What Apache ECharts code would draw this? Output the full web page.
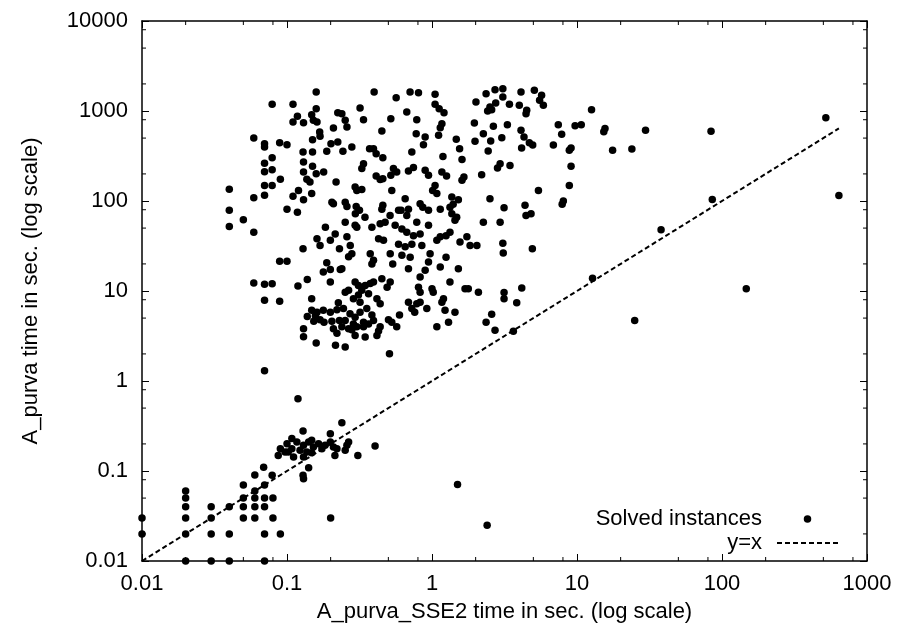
<!DOCTYPE html>
<html>
<head>
<meta charset="utf-8">
<script src="https://cdn.jsdelivr.net/npm/echarts@6/dist/echarts.min.js"></script>
<style>html,body{margin:0;padding:0;background:#fff}#c{width:898px;height:630px}</style>
</head>
<body>
<div id="c"></div>
<script>
// ---- tick labels ----
const xTickLabels = ['0.01', '0.1', '1', '10', '100', '1000'];
const yTickLabels = ['0.01', '0.1', '1', '10', '100', '1000', '10000'];
const minorMultipliers = [2, 5, 8];

// ---- y = x reference line (x extent) ----
const diagX = [0.01, 640];

// ---- solved instances: [A_purva_SSE2 time, A_purva time] ----
const upperLeft = [[0.159,1626],[0.079,1186],[0.110,1186],[0.159,1062],[0.148,911],[0.118,873],[0.110,755],[0.130,742],[0.152,788],[0.161,755],[0.224,958],[0.209,647],[0.168,584],[0.169,523],[0.059,501],[0.070,434],[0.070,398],[0.089,445],[0.100,423],[0.150,480],[0.201,434],[0.188,356],[0.224,453],[0.129,350],[0.150,350],[0.079,303],[0.070,262],[0.130,271],[0.150,243],[0.070,212],[0.079,223],[0.130,210],[0.159,201],[0.179,210],[0.090,174],[0.137,174],[0.144,163],[0.218,163],[0.070,149],[0.079,149],[0.040,135],[0.059,109],[0.070,116],[0.110,113],[0.120,131],[0.130,103],[0.148,121],[0.040,79],[0.100,81],[0.118,75],[0.050,62],[0.204,97],[0.209,93]];
const lowerLeft = [[0.040,52],[0.059,45],[0.129,29.5],[0.161,38],[0.169,32],[0.184,51],[0.199,36.6],[0.215,43],[0.230,29.5],[0.089,21.4],[0.100,21.4],[0.188,20.6],[0.178,16.3],[0.199,17.3],[0.233,17.3],[0.059,12.3],[0.070,11.9],[0.079,12],[0.119,11.4],[0.138,13.4],[0.199,12.6],[0.070,7.9],[0.089,7.7],[0.148,8.2],[0.226,7.4],[0.148,6.1],[0.161,5.8],[0.178,6.1],[0.199,5.8],[0.221,6.2],[0.138,5.2],[0.157,5.3],[0.169,4.8],[0.180,4.5],[0.204,4.6],[0.153,4.6],[0.209,3.8],[0.221,3.4],[0.130,3.8],[0.130,3.1],[0.159,2.64],[0.216,2.49],[0.230,4.7]];
const upperMid = [[0.399,1626],[0.566,1406],[0.706,1626],[0.807,1599],[1.05,1531],[0.319,1080],[1.05,1186],[1.12,1062],[1.21,958],[2.01,1259],[0.239,934],[0.252,788],[0.259,664],[0.337,801],[0.670,977],[0.520,822],[0.785,801],[0.451,600],[1.17,723],[1.14,653],[1.96,736],[0.778,560],[0.897,514],[1.11,537],[1.47,484],[1.98,460],[0.243,356],[0.280,398],[0.371,381],[0.395,381],[0.412,336],[0.458,303],[0.873,423],[0.726,350],[1.19,313],[1.55,381],[1.61,290],[0.337,260],[0.328,229],[0.542,229],[0.571,210],[0.745,235],[0.688,215],[0.897,219],[0.946,193],[1.17,210],[1.26,189],[1.61,170],[1.66,185],[0.412,189],[0.439,173],[0.458,177],[0.520,193],[0.295,143],[0.303,131],[0.328,134],[0.528,131],[0.653,106],[1.01,131],[1.05,149],[1.08,121],[1.37,111],[1.52,103],[0.252,97],[0.259,87],[0.300,87],[0.316,79],[0.296,72],[0.458,89.6],[0.451,81],[0.514,69],[0.588,79],[0.612,79],[0.670,69],[0.688,81],[0.828,93],[0.864,85],[0.946,79],[1.14,81],[1.33,85],[1.40,92],[1.37,72],[1.48,66],[0.345,66]];
const upperRight = [[2.36,1559],[2.72,1726],[3.08,1770],[3.08,1431],[2.75,1227],[2.51,1108],[2.42,1000],[2.58,1034],[3.42,1186],[4.11,1626],[5.08,1700],[5.70,1493],[5.52,1313],[5.86,1156],[4.0,1156],[4.50,1017],[4.45,934],[12.6,1034],[2.26,560],[2.65,676],[3.31,705],[3.03,506],[2.54,464],[2.44,359],[4.11,610],[4.31,514],[4.69,445],[4.95,418],[4.15,388],[7.43,705],[7.84,551],[9.7,687],[10.7,705],[6.87,418],[8.85,366],[9.1,388],[15.6,641],[15.3,589],[17.6,366],[2.95,260],[2.83,233],[3.45,248],[2.2,196],[9.1,243],[5.42,131],[8.85,149],[2.51,106],[3.14,84],[4.38,89.6],[8.05,100],[7.9,92],[4.45,69],[4.82,72],[23.9,378],[29.7,610],[84,594],[520,843],[85.7,104],[640,115]];
const lowerMid = [[0.252,58],[0.295,53.7],[0.303,51],[0.385,51],[0.439,56],[0.475,58],[0.557,53.7],[0.620,49],[0.670,45],[0.785,58],[0.946,53.7],[0.828,43],[0.745,41],[1.44,61],[1.33,45],[1.25,41],[1.14,40],[1.08,36.6],[1.74,40],[1.56,35],[1.83,32],[2.04,32],[0.259,40],[0.273,32],[0.280,26],[0.266,24],[0.375,26],[0.395,21.9],[0.385,20],[0.463,36.6],[0.428,38],[0.588,33],[0.653,31],[0.726,33],[0.851,32],[0.515,26],[0.536,20],[0.620,25],[0.707,23.7],[0.688,17.7],[0.97,26],[0.946,21],[1.14,18.5],[1.25,23.7],[1.52,17.7],[0.239,17.7],[0.295,12.6],[0.311,11.5],[0.346,11.5],[0.375,12.1],[0.395,12.6],[0.451,13.7],[0.515,12.6],[0.490,11],[0.328,10.2],[0.266,10.2],[0.252,9.7],[0.311,9.0],[0.365,9.3],[0.417,8.2],[0.439,7.2],[0.319,7.5],[0.287,8.2],[0.245,6.4],[0.272,5.6],[0.295,5.1],[0.319,5.8],[0.355,6.4],[0.385,5.4],[0.395,4.7],[0.337,4.5],[0.287,4.3],[0.252,4.7],[0.239,4.0],[0.266,3.8],[0.303,4.0],[0.337,4.0],[0.365,4.3],[0.439,4.0],[0.501,4.8],[0.528,4.5],[0.571,4.0],[0.597,5.4],[0.295,3.2],[0.346,3.08],[0.417,3.2],[0.252,2.39],[0.509,2.01],[0.688,7.5],[0.785,7.2],[0.828,7.5],[0.726,6.4],[0.828,9.7],[0.807,11],[0.828,14.3],[0.897,17],[1.0,10.6],[1.02,9.7],[0.921,6.4],[1.17,7.5],[1.23,6.1],[1.2,8.2],[1.33,12.6],[1.44,5.8],[1.69,10.6],[1.78,10.6],[2.09,9.7],[1.08,4.0],[1.3,4.5],[0.428,3.6],[0.280,3.7],[0.76,5.8]];
const lowerRight = [[2.26,58],[2.95,58],[3.08,34],[3.1,26.4],[4.92,29.5],[3.14,9.6],[3.14,8.2],[4.16,10.8],[3.84,7.4],[2.58,5.5],[2.36,4.5],[2.72,3.66],[3.64,3.56],[12.8,13.9],[38,48],[147,10.6],[25,4.7]];
const subSecond = [[0.119,0.637],[0.239,0.344],[0.129,0.278],[0.199,0.260],[0.108,0.229],[0.1,0.201],[0.090,0.177],[0.087,0.149],[0.097,0.163],[0.108,0.177],[0.117,0.21],[0.111,0.143],[0.123,0.17],[0.130,0.193],[0.141,0.21],[0.148,0.219],[0.152,0.185],[0.165,0.201],[0.174,0.177],[0.183,0.193],[0.199,0.21],[0.209,0.185],[0.221,0.177],[0.214,0.149],[0.259,0.193],[0.266,0.21],[0.252,0.17],[0.308,0.149],[0.405,0.189],[0.137,0.163],[0.148,0.159],[0.130,0.143],[0.102,0.163],[0.141,0.109],[0.129,0.0895],[0.13,0.082],[0.069,0.11],[0.079,0.0895],[0.07,1.3],[1.5,0.071],[2.4,0.025],[0.2,0.03]];
const tinyTimes = [[0.01,0.03],[0.01,0.02],[0.02,0.06],[0.02,0.05],[0.02,0.04],[0.02,0.03],[0.02,0.02],[0.02,0.01],[0.03,0.04],[0.03,0.03],[0.03,0.02],[0.03,0.01],[0.04,0.04],[0.04,0.02],[0.04,0.01],[0.05,0.07],[0.05,0.05],[0.05,0.04],[0.05,0.03],[0.06,0.09],[0.06,0.06],[0.06,0.05],[0.06,0.04],[0.06,0.03],[0.07,0.07],[0.07,0.05],[0.07,0.04],[0.07,0.02],[0.07,0.01],[0.08,0.05],[0.08,0.03],[0.09,0.02]];

const solved = [].concat(upperLeft, lowerLeft, upperMid, upperRight, lowerMid, lowerRight, subSecond, tinyTimes);

const FONT = 'Liberation Sans, Arial, sans-serif';
const chart = echarts.init(document.getElementById('c'), null, {renderer: 'canvas'});

function labelFor(list) {
  return function (v) {
    const i = Math.round(Math.log10(v)) + 2;
    return list[i] !== undefined ? list[i] : '';
  };
}
function tickLine(x1, y1, x2, y2) {
  return {type: 'line', shape: {x1: x1, y1: y1, x2: x2, y2: y2}, style: {stroke: '#000', lineWidth: 1}};
}

const axisBase = {
  type: 'log', logBase: 10,
  axisLine: {show: true, lineStyle: {color: '#000', width: 1.5}},
  axisTick: {show: true, inside: true, length: 7, lineStyle: {color: '#000', width: 1}},
  splitLine: {show: false}
};

chart.setOption({
  animation: false,
  backgroundColor: '#fff',
  textStyle: {fontFamily: FONT, color: '#000'},
  grid: {left: 142, right: 31, top: 21, bottom: 69, containLabel: false},
  xAxis: [
    Object.assign({}, axisBase, {
      min: 0.01, max: 1000, splitNumber: 5, position: 'bottom',
      axisLabel: {show: true, margin: 12, fontSize: 22, color: '#000', fontFamily: FONT, formatter: labelFor(xTickLabels)},
      name: 'A_purva_SSE2 time in sec. (log scale)', nameLocation: 'middle', nameGap: 40,
      nameTextStyle: {fontSize: 22, color: '#000', fontFamily: FONT}
    }),
    Object.assign({}, axisBase, {min: 0.01, max: 1000, splitNumber: 5, position: 'top', axisLabel: {show: false}})
  ],
  yAxis: [
    Object.assign({}, axisBase, {
      min: 0.01, max: 10000, splitNumber: 6, position: 'left',
      axisLabel: {show: true, margin: 14, fontSize: 22, color: '#000', fontFamily: FONT, formatter: labelFor(yTickLabels)},
      name: 'A_purva time in sec. (log scale)', nameLocation: 'middle', nameGap: 100,
      nameTextStyle: {fontSize: 22, color: '#000', fontFamily: FONT}
    }),
    Object.assign({}, axisBase, {min: 0.01, max: 10000, splitNumber: 6, position: 'right', axisLabel: {show: false}})
  ],
  legend: {
    data: [
      {name: 'Solved instances'},
      {name: 'y=x', itemStyle: {opacity: 0}, lineStyle: {color: '#000', width: 2, type: [5, 3], opacity: 1}}
    ],
    orient: 'vertical', align: 'right',
    right: 59, top: 508, padding: 0, itemGap: 2,
    itemWidth: 61, itemHeight: 7.5,
    selectedMode: false,
    textStyle: {fontSize: 22, color: '#000', fontFamily: FONT, lineHeight: 22, padding: [0, 10, 0, 0]}
  },
  series: [
    {
      name: 'Solved instances', type: 'scatter', xAxisIndex: 0, yAxisIndex: 0,
      symbol: 'circle', symbolSize: 7.5,
      itemStyle: {color: '#000', opacity: 1},
      data: solved, z: 3
    },
    {
      name: 'y=x', type: 'line', xAxisIndex: 0, yAxisIndex: 0,
      symbol: 'none', showSymbol: false,
      lineStyle: {color: '#000', width: 2, type: [5, 3]},
      itemStyle: {color: '#000'},
      data: diagX.map(function (v) { return [v, v]; }), z: 4
    },
    {
      name: 'minorTicks', type: 'custom', xAxisIndex: 0, yAxisIndex: 0,
      silent: true, clip: false,
      data: [[1, 1]],
      renderItem: function (params, api) {
        const cs = params.coordSys;
        const left = cs.x, right = cs.x + cs.width, top = cs.y, bottom = cs.y + cs.height;
        const children = [];
        for (let e = -2; e < 3; e++) {
          minorMultipliers.forEach(function (m) {
            const px = api.coord([m * Math.pow(10, e), 1])[0];
            children.push(tickLine(px, bottom, px, bottom - 4), tickLine(px, top, px, top + 4));
          });
        }
        for (let e = -2; e < 4; e++) {
          minorMultipliers.forEach(function (m) {
            const py = api.coord([1, m * Math.pow(10, e)])[1];
            children.push(tickLine(left, py, left + 4, py), tickLine(right, py, right - 4, py));
          });
        }
        return {type: 'group', children: children};
      }
    }
  ]
});
</script>
</body>
</html>
